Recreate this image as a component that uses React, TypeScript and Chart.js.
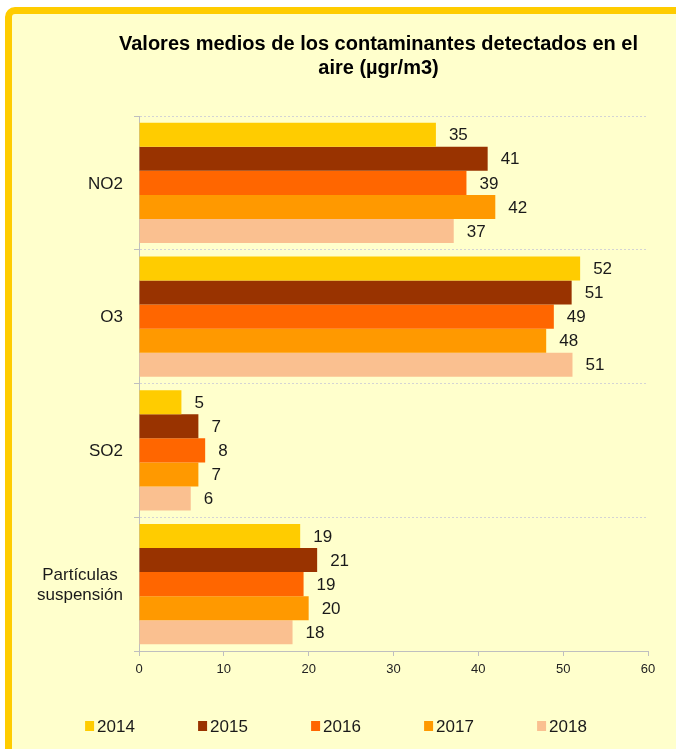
import React, { useEffect, useRef } from 'react';
import { Chart, registerables } from 'chart.js';

Chart.register(...registerables);

const categories: string[][] = [['NO2'], ['O3'], ['SO2'], ['Partículas', 'suspensión']];
const years = ['2014', '2015', '2016', '2017', '2018'];
const v2014 = [35, 52, 5, 19];
const v2015 = [41.1, 51, 7, 21];
const v2016 = [38.6, 48.9, 7.8, 19.4];
const v2017 = [42, 48, 7, 20];
const v2018 = [37.1, 51.1, 6.1, 18.1];
const seriesValues = [v2014, v2015, v2016, v2017, v2018];
const colors = ['#FFCC00', '#993300', '#FF6600', '#FF9900', '#FAC090'];
const xMin = 0;
const xMax = 60;
const xStep = 10;
const titleLines = ['Valores medios de los contaminantes detectados en el', 'aire (µgr/m3)'];

const FONT = '"Liberation Sans", Arial, sans-serif';

const overlay = {
  id: 'overlay',
  afterDatasetsDraw(chart: any) {
    const ctx: CanvasRenderingContext2D = chart.ctx;
    const area = chart.chartArea;
    ctx.save();
    ctx.fillStyle = '#1a1a1a';

    // data labels
    ctx.font = `17px ${FONT}`;
    ctx.textAlign = 'left';
    ctx.textBaseline = 'middle';
    chart.data.datasets.forEach((ds: any, i: number) => {
      const meta = chart.getDatasetMeta(i);
      meta.data.forEach((bar: any, j: number) => {
        const v = ds.data[j];
        ctx.fillText(String(Math.round(v)), bar.x + 13, bar.y + 1);
      });
    });

    // category labels
    const ys = chart.scales.y;
    const right = area.left - 16;
    ctx.font = `17px ${FONT}`;
    ctx.textAlign = 'center';
    ctx.textBaseline = 'middle';
    categories.forEach((lines, i) => {
      const y = ys.getPixelForTick(i);
      const w = Math.max(...lines.map((l) => ctx.measureText(l).width));
      const cx = right - w / 2;
      const n = lines.length;
      lines.forEach((l, k) => {
        ctx.fillText(l, cx, y + (k - (n - 1) / 2) * 20 + 1);
      });
    });

    // title
    ctx.font = `bold 20px ${FONT}`;
    ctx.textAlign = 'center';
    ctx.textBaseline = 'alphabetic';
    ctx.fillStyle = '#000';
    const tx = (area.left + area.right) / 2 - 15;
    titleLines.forEach((l, k) => {
      ctx.fillText(l, tx, 50 + k * 24);
    });

    // legend
    ctx.font = `17px ${FONT}`;
    ctx.textAlign = 'left';
    ctx.textBaseline = 'alphabetic';
    const pitch = 113;
    const tw = ctx.measureText(years[0]).width;
    const total = (years.length - 1) * pitch + 12 + tw;
    const startX = chart.width / 2 - total / 2 - 2;
    years.forEach((yr, i) => {
      const x = startX + i * pitch;
      ctx.fillStyle = colors[i];
      ctx.fillRect(x, 721, 9, 10);
      ctx.fillStyle = '#1a1a1a';
      ctx.fillText(yr, x + 12, 732);
    });

    ctx.restore();
  },
};

export default function App() {
  const ref = useRef<HTMLCanvasElement | null>(null);

  useEffect(() => {
    if (!ref.current) return;
    const chart = new Chart(ref.current, {
      type: 'bar',
      data: {
        labels: categories.map((c) => c.join(' ')),
        datasets: years.map((yr, i) => ({
          label: yr,
          data: seriesValues[i],
          backgroundColor: colors[i],
          borderWidth: 0,
          categoryPercentage: 0.9,
          barPercentage: 1.0,
        })),
      },
      options: {
        indexAxis: 'y',
        animation: false,
        responsive: false,
        maintainAspectRatio: false,
        layout: { padding: { left: 134, top: 116, right: 28, bottom: 68 } },
        plugins: {
          legend: { display: false },
          title: { display: false },
          tooltip: { enabled: false },
        },
        scales: {
          x: {
            type: 'linear',
            position: 'bottom',
            min: xMin,
            max: xMax,
            ticks: {
              stepSize: xStep,
              color: '#222',
              font: { family: FONT, size: 13 },
              padding: 6,
            },
            grid: {
              drawOnChartArea: false,
              drawTicks: true,
              tickLength: 5,
              tickColor: '#BFBFBF',
              color: '#BFBFBF',
            },
            border: { display: true, color: '#BFBFBF', width: 1 },
            afterFit: (s: any) => {
              s.height = 30;
            },
          },
          y: {
            type: 'category',
            ticks: { display: false },
            grid: {
              offset: true,
              drawTicks: true,
              tickLength: 5,
              color: '#D4D4D4',
              tickColor: '#BFBFBF',
              lineWidth: 1,
            },
            border: { display: true, color: '#BFBFBF', width: 1, dash: [2, 2] },
            afterFit: (s: any) => {
              s.width = 5;
            },
          },
        },
      },
      plugins: [overlay],
    } as any);
    return () => chart.destroy();
  }, []);

  return (
    <div
      style={{
        position: 'absolute',
        left: 0,
        top: 0,
        width: 676,
        height: 749,
        overflow: 'hidden',
        background: '#ffffff',
      }}
    >
      <div
        style={{
          position: 'absolute',
          left: 5,
          top: 7,
          width: 720,
          height: 800,
          boxSizing: 'border-box',
          border: '7px solid #FFCC00',
          borderRadius: 10,
          background: '#FFFFCC',
        }}
      />
      <canvas
        ref={ref}
        width={676}
        height={749}
        style={{ position: 'absolute', left: 0, top: 0, width: 676, height: 749 }}
      />
    </div>
  );
}
